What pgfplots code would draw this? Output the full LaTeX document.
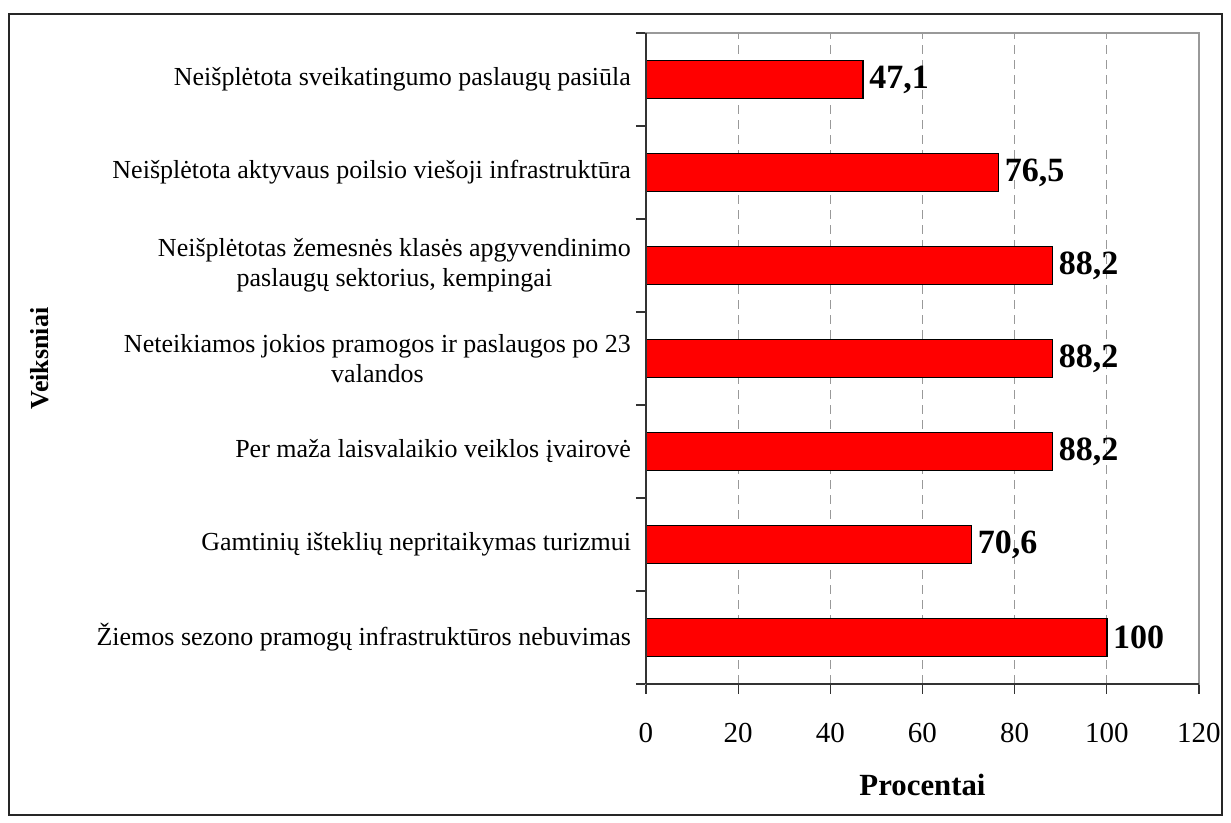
\documentclass[border=0pt]{standalone}
\usepackage{pgfplots}
\pgfplotsset{compat=1.18}
\usepackage{fontspec}
\setmainfont{Liberation Serif}
\begin{document}
\begin{tikzpicture}
\useasboundingbox (-323pt,-69.5pt) rectangle (292.5pt,342pt);
\draw[line width=0.6pt, black!85] (-318.5pt,-65.5pt) rectangle (288pt,335pt);
\begin{axis}[
  at={(0,0)}, anchor=south west,
  scale only axis,
  width=276.5pt, height=325.5pt,
  xbar,
  xmin=0, xmax=120,
  ymin=-0.5, ymax=6.5,
  bar width=19pt,
  axis line style={draw=black!40, line width=0.6pt},
  xtick={0,20,...,120},
  xtick align=outside,
  xmajorgrids,
  major grid style={draw=black!40, dash pattern=on 4.5pt off 3pt, line width=0.5pt},
  major tick length=5pt,
  tick style={draw=black!80, line width=0.6pt},
  xtick pos=bottom,
  ytick pos=left,
  ytick={-0.5,0.5,...,6.5},
  yticklabels={},
  ytick align=outside,
  /pgf/number format/assume math mode=true,
  xticklabel style={font=\fontsize{14.5}{17}\selectfont, yshift=-11pt},
  extra y ticks={0,1,2,3,4,5,6},
  extra y tick labels={
    {Žiemos sezono pramogų infrastruktūros nebuvimas},
    {Gamtinių išteklių nepritaikymas turizmui},
    {Per maža laisvalaikio veiklos įvairovė},
    {Neteikiamos jokios pramogos ir paslaugos po 23\\valandos},
    {Neišplėtotas žemesnės klasės apgyvendinimo\\paslaugų sektorius, kempingai},
    {Neišplėtota aktyvaus poilsio viešoji infrastruktūra},
    {Neišplėtota sveikatingumo paslaugų pasiūla}},
  extra y tick style={major tick length=0pt, ymajorgrids=false,
    yticklabel style={font=\fontsize{13}{15}\selectfont, align=center, xshift=-4pt}},
  nodes near coords,
  nodes near coords style={font=\fontsize{17}{19}\selectfont\bfseries, anchor=west, xshift=-0.5pt,
    /pgf/number format/.cd, use comma, fixed, precision=1, assume math mode=true},
  clip=false,
]
\addplot[fill=red, draw=black, line width=0.75pt] coordinates {
  (100,0) (70.6,1) (88.2,2) (88.2,3) (88.2,4) (76.5,5) (47.1,6)
};
\draw[black!80, line width=0.6pt] (rel axis cs:0,0) -- (rel axis cs:0,1);
\draw[black!80, line width=0.6pt] (rel axis cs:0,0) -- (rel axis cs:1,0);
\end{axis}
\node[font=\fontsize{15.4}{17}\selectfont\bfseries] at (138.25pt,-50.5pt) {Procentai};
\node[font=\fontsize{13}{15}\selectfont\bfseries, rotate=90] at (-303pt,162.75pt) {Veiksniai};
\end{tikzpicture}
\end{document}
